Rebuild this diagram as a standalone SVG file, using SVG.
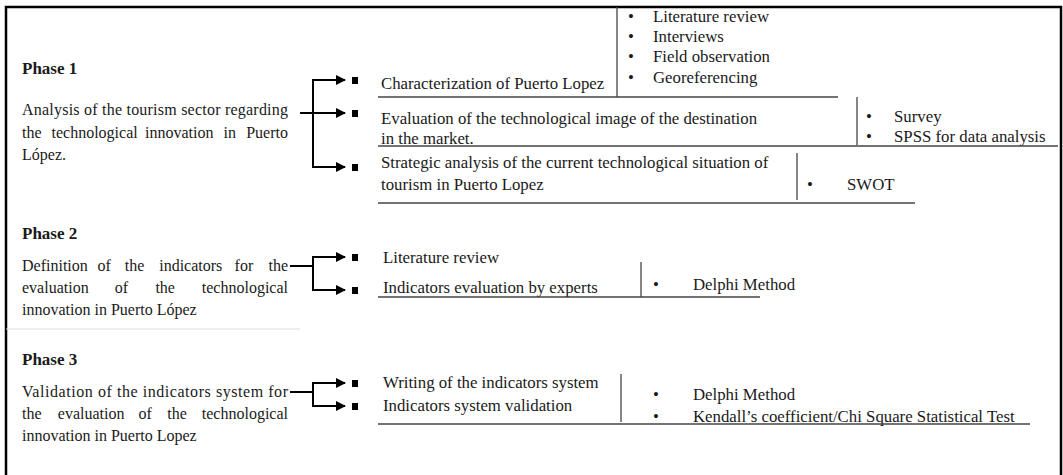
<svg xmlns="http://www.w3.org/2000/svg" width="1063" height="475" viewBox="0 0 1063 475">
<style>
text{font-family:"Liberation Serif","Times New Roman",serif;font-size:16.8px;fill:#1a1a1a}
.ph{font-weight:bold;font-size:17px}
.d{font-size:16px}
.e{text-anchor:end}
.c{stroke:#000;stroke-width:2;fill:none}
.u{stroke:#444;stroke-width:1.6;fill:none}
.v{stroke:#444;stroke-width:1.3;fill:none}
.sq{fill:#000}
</style>
<defs>
<marker id="ah" viewBox="0 0 10 10" refX="9" refY="5" markerWidth="5.5" markerHeight="5" orient="auto" markerUnits="strokeWidth">
<path d="M0,0 L10,5 L0,10 z" fill="#000"/>
</marker>
</defs>
<rect width="1063" height="475" fill="#fff"/>
<path d="M6,475 V7 H1061 V475" stroke="#000" stroke-width="2.5" fill="none"/>
<line x1="6" y1="329" x2="300" y2="329" stroke="#ddd" stroke-width="1"/>

<g id="connectors">
<path class="c" d="M300,113 H345" marker-end="url(#ah)"/>
<path class="c" d="M313,167 V80 H345" marker-end="url(#ah)"/>
<path class="c" d="M313,80 V167 H345" marker-end="url(#ah)"/>
<path class="c" d="M290,266 H313"/>
<path class="c" d="M313,290 V257 H345" marker-end="url(#ah)"/>
<path class="c" d="M313,257 V290 H345" marker-end="url(#ah)"/>
<path class="c" d="M290,392 H313"/>
<path class="c" d="M313,406 V383 H345" marker-end="url(#ah)"/>
<path class="c" d="M313,383 V406 H345" marker-end="url(#ah)"/>
</g>

<g id="phase1">
<text class="ph" x="22" y="74">Phase 1</text>
<text class="d" x="22" y="115" textLength="266" lengthAdjust="spacing">Analysis of the tourism sector regarding</text>
<text class="d" y="138"><tspan x="22">the</tspan><tspan x="51.5">technological</tspan><tspan x="145">innovation</tspan><tspan x="223.5">in</tspan></text>
<text class="d e" x="288" y="138">Puerto</text>
<text class="d" x="22" y="160">López.</text>
</g>

<g id="p1-step1">
<rect class="sq" x="352" y="77" width="6" height="7"/>
<text x="381" y="89">Characterization of Puerto Lopez</text>
<line class="u" x1="378" y1="97" x2="838" y2="97"/>
<line class="v" x1="617" y1="7" x2="617" y2="97"/>
<g>
<text x="628" y="22">•</text><text x="653" y="22">Literature review</text>
<text x="628" y="42">•</text><text x="653" y="42">Interviews</text>
<text x="628" y="62">•</text><text x="653" y="62">Field observation</text>
<text x="628" y="83">•</text><text x="653" y="83">Georeferencing</text>
</g>
</g>

<g id="p1-step2">
<rect class="sq" x="352" y="110" width="6" height="7"/>
<text x="381" y="124">Evaluation of the technological image of the destination</text>
<text x="381" y="144">in the market.</text>
<line class="v" x1="857" y1="97" x2="857" y2="145"/>
<text x="866" y="122">•</text><text x="894" y="122">Survey</text>
<text x="866" y="142">•</text><text x="894" y="142">SPSS for data analysis</text>
<line class="u" x1="378" y1="146" x2="1058" y2="146"/>
</g>

<g id="p1-step3">
<rect class="sq" x="352" y="164" width="6" height="7"/>
<text x="381" y="168">Strategic analysis of the current technological situation of</text>
<text x="381" y="190">tourism in Puerto Lopez</text>
<line class="v" x1="797" y1="153" x2="797" y2="200"/>
<text x="807" y="190">•</text><text x="847" y="190">SWOT</text>
<line class="u" x1="378" y1="203" x2="915" y2="203"/>
</g>

<g id="phase2">
<text class="ph" x="22" y="239">Phase 2</text>
<text class="d" y="271"><tspan x="22">Definition</tspan><tspan x="97.4">of</tspan><tspan x="124.8">the</tspan><tspan x="159.2">indicators</tspan><tspan x="234.6">for</tspan></text>
<text class="d e" x="288" y="271">the</text>
<text class="d" y="293"><tspan x="22">evaluation</tspan><tspan x="114.7">of</tspan><tspan x="155.4">the</tspan></text>
<text class="d e" x="288" y="293">technological</text>
<text class="d" x="22" y="315">innovation in Puerto López</text>
</g>

<g id="p2-steps">
<rect class="sq" x="352" y="254" width="6" height="7"/>
<rect class="sq" x="352" y="287" width="6" height="7"/>
<text x="383" y="263">Literature review</text>
<text x="383" y="293">Indicators evaluation by experts</text>
<line class="v" x1="641" y1="262" x2="641" y2="297"/>
<text x="653" y="290">•</text><text x="693" y="290">Delphi Method</text>
<line class="u" x1="378" y1="297" x2="760" y2="297"/>
</g>

<g id="phase3">
<text class="ph" x="22" y="365">Phase 3</text>
<text class="d" x="22" y="397" textLength="266" lengthAdjust="spacing">Validation of the indicators system for</text>
<text class="d" y="419"><tspan x="22">the</tspan><tspan x="57.8">evaluation</tspan><tspan x="138.5">of</tspan><tspan x="167.3">the</tspan></text>
<text class="d e" x="288" y="419">technological</text>
<text class="d" x="22" y="441">innovation in Puerto Lopez</text>
</g>

<g id="p3-steps">
<rect class="sq" x="352" y="380" width="6" height="7"/>
<rect class="sq" x="352" y="403" width="6" height="7"/>
<text x="383" y="388">Writing of the indicators system</text>
<text x="383" y="411">Indicators system validation</text>
<line class="v" x1="621" y1="374" x2="621" y2="422"/>
<text x="653" y="400">•</text><text x="693" y="400">Delphi Method</text>
<text x="653" y="422">•</text><text x="693" y="422">Kendall’s coefficient/Chi Square Statistical Test</text>
<line class="u" x1="378" y1="424" x2="1030" y2="424"/>
</g>
</svg>
